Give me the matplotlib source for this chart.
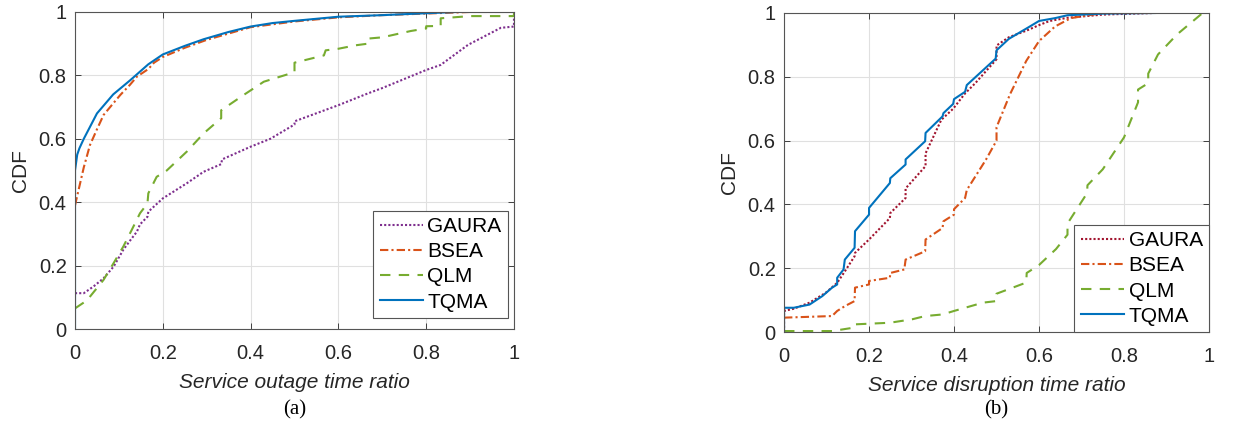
import numpy as np
import matplotlib
matplotlib.use('Agg')
from matplotlib import pyplot as plt

plt.rcParams['font.family'] = ['Liberation Sans', 'DejaVu Sans']

# ---- (a) service outage time ratio ----
a_gaura_x = [0, 0.02, 0.042, 0.065, 0.088, 0.11, 0.126, 0.141, 0.148, 0.165, 0.167, 0.2, 0.255,
             0.293, 0.333, 0.335, 0.4, 0.445, 0.5, 0.5, 0.6, 0.667, 0.7, 0.8, 0.833, 0.895, 0.97, 1.0, 1.0]
a_gaura_y = [0.113, 0.113, 0.134, 0.16, 0.197, 0.25, 0.28, 0.307, 0.33, 0.354, 0.37, 0.412, 0.46,
             0.496, 0.52, 0.535, 0.575, 0.6, 0.645, 0.655, 0.706, 0.743, 0.76, 0.817, 0.833, 0.896, 0.95, 0.954, 1.0]

a_bsea_x = [0, 0.005, 0.01, 0.02, 0.034, 0.05, 0.065, 0.08, 0.103, 0.125, 0.141, 0.167, 0.18, 0.2,
            0.25, 0.3, 0.4, 0.5, 0.6, 0.7, 0.8, 0.9, 1.0]
a_bsea_y = [0.39, 0.42, 0.45, 0.51, 0.58, 0.63, 0.675, 0.70, 0.738, 0.77, 0.796, 0.82, 0.84, 0.858,
            0.887, 0.912, 0.952, 0.97, 0.983, 0.99, 0.995, 1.0, 1.0]

a_qlm_x = [0, 0.027, 0.065, 0.088, 0.11, 0.129, 0.148, 0.165, 0.167, 0.186, 0.209, 0.255, 0.293, 0.333,
           0.333, 0.384, 0.43, 0.5, 0.5, 0.567, 0.571, 0.6, 0.64, 0.667, 0.667, 0.7, 0.765, 0.8, 0.8,
           0.833, 0.833, 0.9, 1.0, 1.0]
a_qlm_y = [0.065, 0.09, 0.155, 0.208, 0.26, 0.312, 0.365, 0.396, 0.428, 0.48, 0.50, 0.56, 0.617, 0.665,
           0.69, 0.738, 0.78, 0.81, 0.84, 0.863, 0.879, 0.884, 0.895, 0.9, 0.916, 0.92, 0.94, 0.948, 0.955,
           0.956, 0.98, 0.987, 0.987, 1.0]

a_tqma_x = [0, 0, 0.005, 0.01, 0.02, 0.05, 0.087, 0.126, 0.167, 0.2, 0.25, 0.293, 0.35, 0.4, 0.45,
            0.5, 0.6, 0.7, 0.8, 0.87, 1.0]
a_tqma_y = [0, 0.50, 0.55, 0.57, 0.60, 0.68, 0.74, 0.785, 0.835, 0.866, 0.893, 0.914, 0.937, 0.954, 0.965,
            0.972, 0.985, 0.99, 0.996, 1.0, 1.0]

# ---- (b) service disruption time ratio ----
b_gaura_x = [0, 0, 0.023, 0.06, 0.098, 0.125, 0.143, 0.166, 0.167, 0.2, 0.249, 0.25, 0.286, 0.286,
             0.333, 0.333, 0.37, 0.398, 0.426, 0.45, 0.5, 0.5, 0.529, 0.571, 0.6, 0.625, 0.667, 0.75, 0.87]
b_gaura_y = [0, 0.066, 0.073, 0.092, 0.123, 0.154, 0.19, 0.2375, 0.248, 0.29, 0.357, 0.373, 0.42, 0.45,
             0.52, 0.56, 0.665, 0.70, 0.748, 0.78, 0.855, 0.898, 0.924, 0.945, 0.962, 0.975, 0.985, 0.995, 1.0]

b_bsea_x = [0, 0.113, 0.125, 0.143, 0.166, 0.167, 0.2, 0.2, 0.249, 0.25, 0.283, 0.286, 0.332, 0.333,
            0.373, 0.375, 0.4, 0.4, 0.426, 0.43, 0.475, 0.5, 0.5, 0.532, 0.57, 0.6, 0.638, 0.675, 0.736, 0.76]
b_bsea_y = [0.045, 0.05, 0.066, 0.081, 0.097, 0.139, 0.149, 0.16, 0.17, 0.185, 0.196, 0.227, 0.253, 0.29,
            0.326, 0.347, 0.368, 0.385, 0.42, 0.445, 0.54, 0.60, 0.642, 0.746, 0.85, 0.912, 0.958, 0.984, 0.997, 1.0]

b_qlm_x = [0, 0.113, 0.166, 0.167, 0.249, 0.302, 0.332, 0.373, 0.4, 0.468, 0.5, 0.5, 0.52, 0.57, 0.571,
           0.6, 0.64, 0.667, 0.667, 0.713, 0.714, 0.75, 0.8, 0.833, 0.833, 0.857, 0.857, 0.88, 0.925, 0.985]
b_qlm_y = [0.003, 0.003, 0.014, 0.024, 0.029, 0.04, 0.05, 0.055, 0.066, 0.092, 0.097, 0.12, 0.13, 0.155,
           0.185, 0.21, 0.26, 0.305, 0.34, 0.435, 0.46, 0.51, 0.61, 0.72, 0.76, 0.78, 0.81, 0.87, 0.933, 1.0]

b_tqma_x = [0, 0, 0.023, 0.06, 0.09, 0.113, 0.125, 0.125, 0.14, 0.143, 0.166, 0.167, 0.2, 0.2, 0.249,
            0.25, 0.286, 0.286, 0.332, 0.333, 0.373, 0.375, 0.398, 0.4, 0.426, 0.43, 0.498, 0.5, 0.529,
            0.575, 0.6, 0.638, 0.667, 0.75, 0.873]
b_tqma_y = [0, 0.076, 0.076, 0.086, 0.1125, 0.139, 0.149, 0.17, 0.196, 0.227, 0.264, 0.316, 0.368, 0.389,
            0.467, 0.482, 0.525, 0.541, 0.598, 0.624, 0.676, 0.686, 0.715, 0.73, 0.753, 0.774, 0.857, 0.883,
            0.919, 0.955, 0.975, 0.984, 0.993, 0.998, 1.0]

labels = ['GAURA', 'BSEA', 'QLM', 'TQMA']
c_purple = (0.494, 0.184, 0.556)
c_red = (0.635, 0.078, 0.184)
c_orange = (0.85, 0.325, 0.098)
c_green = (0.466, 0.674, 0.188)
c_blue = (0.0, 0.447, 0.741)
styles = [(0, (1, 1)), (0, (4, 1.5, 1, 1.5)), (0, (5, 4)), '-']

fig = plt.figure(figsize=(12.4, 4.29), dpi=100)
ax_a = fig.add_axes([0.0605, 0.2331, 0.354, 0.739])
ax_b = fig.add_axes([0.6323, 0.2261, 0.3427, 0.7436])

panels = [
    (ax_a, [(a_gaura_x, a_gaura_y), (a_bsea_x, a_bsea_y), (a_qlm_x, a_qlm_y), (a_tqma_x, a_tqma_y)],
     [c_purple, c_orange, c_green, c_blue], 'Service outage time ratio', (0.986, 0.035), '(a)', -0.255),
    (ax_b, [(b_gaura_x, b_gaura_y), (b_bsea_x, b_bsea_y), (b_qlm_x, b_qlm_y), (b_tqma_x, b_tqma_y)],
     [c_red, c_orange, c_green, c_blue], 'Service disruption time ratio', (1.0, 0.0), '(b)', -0.245),
]

for ax, curves, colors, xlabel, leg_pos, tag, tag_y in panels:
    for (x, y), col, ls, lab in zip(curves, colors, styles, labels):
        ax.plot(x, y, color=col, linestyle=ls, linewidth=1.5, label=lab)
    ax.set_xlim(0, 1)
    ax.set_ylim(0, 1)
    ticks = [0, 0.2, 0.4, 0.6, 0.8, 1]
    ax.set_xticks(ticks)
    ax.set_yticks(ticks)
    ax.set_xticklabels(['0', '0.2', '0.4', '0.6', '0.8', '1'])
    ax.set_yticklabels(['0', '0.2', '0.4', '0.6', '0.8', '1'])
    ax.grid(True, color='0.88', linewidth=0.8)
    ax.set_axisbelow(True)
    ax.tick_params(direction='in', top=True, right=True, length=4, width=0.6,
                   labelsize=14.5, colors='#262626')
    ax.tick_params(axis='x', pad=11)
    ax.tick_params(axis='y', pad=6)
    for sp in ax.spines.values():
        sp.set_color('#555555')
        sp.set_linewidth(0.8)
    ax.set_xlabel(xlabel, fontsize=15, style='italic', color='#262626', labelpad=7)
    ax.set_ylabel('CDF', fontsize=15, color='#262626', labelpad=6)
    leg = ax.legend(loc='lower right', bbox_to_anchor=leg_pos, borderaxespad=0, fontsize=15,
                    fancybox=False, framealpha=1, edgecolor='#555555', handlelength=2.1,
                    handletextpad=0.2, labelspacing=0.3, borderpad=0.3)
    leg.get_frame().set_linewidth(0.8)
    ax.text(0.5, tag_y, tag, transform=ax.transAxes, ha='center', va='center',
            fontsize=15, family='Liberation Serif')

fig.savefig('out.png', dpi=100)
